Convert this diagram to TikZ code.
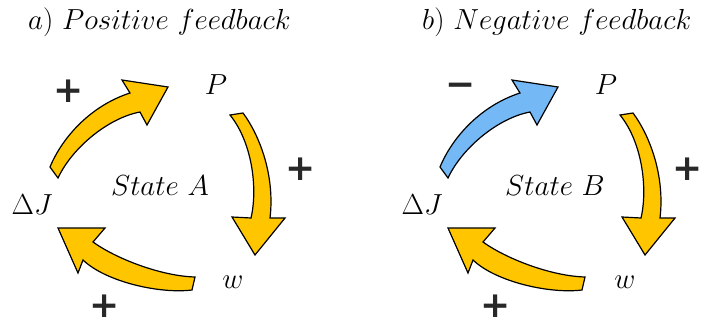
\RequirePackage{fix-cm}
\documentclass[tikz,border=0pt]{standalone}
\usepackage{fontspec}
\newfontfamily\signfont{DejaVu Sans}
\definecolor{arrowgold}{RGB}{255,198,0}
\definecolor{arrowblue}{RGB}{116,184,246}
\definecolor{signgray}{RGB}{40,40,40}
\tikzset{
  blockarrow/.style={draw=black, line width=1.2pt, line join=miter},
  lbl/.style={inner sep=0pt, font=\fontsize{29}{34}\selectfont},
  sign/.style={inner sep=0pt, text=signgray, font=\signfont\bfseries\fontsize{36}{36}\selectfont},
}
\newcommand\fbArrowOne[1]{%
  \filldraw[blockarrow, fill=#1] (50,167) .. controls (62,138) and (90,106) .. (130,93)
    -- (122,80) -- (168,87) -- (147,125) -- (140,112)
    .. controls (108,118) and (72,148) .. (58,178) -- cycle;}
\newcommand\fbArrowTwo[1]{%
  \filldraw[blockarrow, fill=#1] (243,113) .. controls (260,136) and (275,176) .. (270,218)
    -- (285,218) -- (255,255) -- (232,217) -- (251,218)
    .. controls (258,188) and (252,142) .. (230,115) -- cycle;}
\newcommand\fbArrowThree[1]{%
  \filldraw[blockarrow, fill=#1] (192,290) .. controls (160,294) and (106,282) .. (83,260)
    -- (78,273) -- (58,228) -- (105,228) -- (93,242)
    .. controls (115,258) and (160,276) .. (195,277) -- cycle;}
\begin{document}
\begin{tikzpicture}[x=1pt,y=-1pt]
\useasboundingbox (0,0) rectangle (703,326);
% panel a
\begin{scope}
  \fbArrowOne{arrowgold}
  \fbArrowTwo{arrowgold}
  \fbArrowThree{arrowgold}
\end{scope}
\node[lbl, anchor=base west] (titleA) at (28,30) {$a)\ Positive\ feedback$};
\node[lbl, anchor=base] (PA) at (216,95) {$P$};
\node[lbl, anchor=base] (JA) at (32,214) {$\Delta J$};
\node[lbl, anchor=base] (stateA) at (160,195) {$State\ A$};
\node[lbl, anchor=base] (wA) at (233,288) {$w$};
\node[sign] (sA1) at (69,91) {+};
\node[sign] (sA2) at (301,169) {+};
\node[sign] (sA3) at (105,306) {+};
% panel b
\begin{scope}[xshift=390pt]
  \fbArrowOne{arrowblue}
  \fbArrowTwo{arrowgold}
  \fbArrowThree{arrowgold}
\end{scope}
\node[lbl, anchor=base west] (titleB) at (422,30) {$b)\ Negative\ feedback$};
\node[lbl, anchor=base] (PB) at (606,95) {$P$};
\node[lbl, anchor=base] (JB) at (422,214) {$\Delta J$};
\node[lbl, anchor=base] (stateB) at (555,195) {$State\ B$};
\node[lbl, anchor=base] (wB) at (625,288) {$w$};
\node[sign] (sB1) at (461,90) {−};
\node[sign] (sB2) at (688,169) {+};
\node[sign] (sB3) at (496,306) {+};
\end{tikzpicture}
\end{document}
